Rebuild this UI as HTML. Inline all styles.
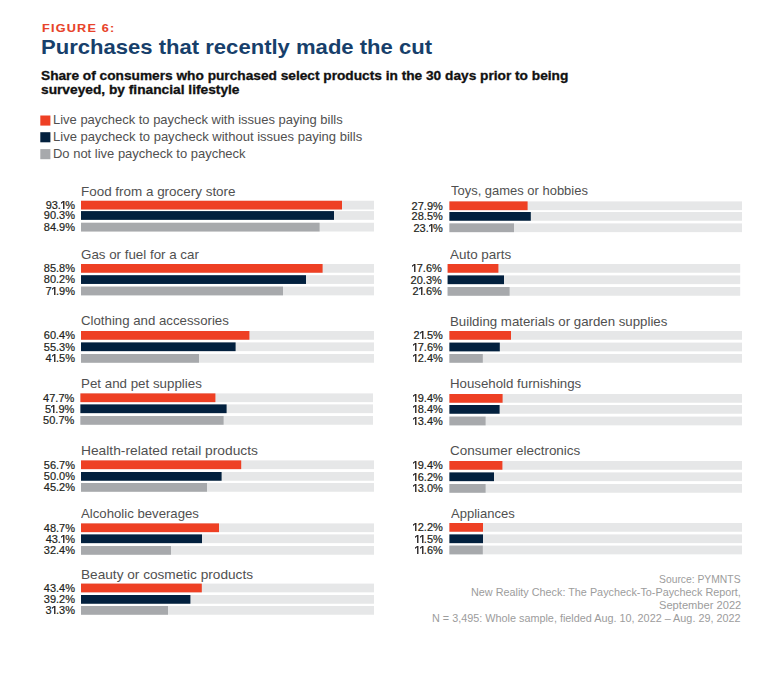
<!DOCTYPE html>
<html><head><meta charset="utf-8"><style>
html,body{margin:0;padding:0;background:#fff;}
body{width:780px;height:675px;position:relative;overflow:hidden;font-family:"Liberation Sans",sans-serif;}
.t{position:absolute;white-space:nowrap;line-height:1;}
.one{display:inline-block;vertical-align:baseline;position:static;fill:#231f20;overflow:visible;}
svg{position:absolute;left:0;top:0;}
</style></head><body>
<svg width="780" height="675" viewBox="0 0 780 675"><rect x="40.30" y="115.50" width="10.10" height="10.10" fill="#ee4024"/><rect x="40.30" y="132.20" width="10.10" height="10.10" fill="#02203e"/><rect x="40.30" y="149.10" width="10.10" height="10.10" fill="#a7a9ac"/><rect x="81.00" y="200.75" width="293.00" height="8.75" fill="#e6e7e8"/><rect x="81.00" y="200.75" width="261.00" height="8.75" fill="#ee4024"/><rect x="81.00" y="211.10" width="293.00" height="8.75" fill="#e6e7e8"/><rect x="81.00" y="211.10" width="253.00" height="8.75" fill="#02203e"/><rect x="81.00" y="222.75" width="293.00" height="8.75" fill="#e6e7e8"/><rect x="81.00" y="222.75" width="238.60" height="8.75" fill="#a7a9ac"/><rect x="81.00" y="264.00" width="293.00" height="8.75" fill="#e6e7e8"/><rect x="81.00" y="264.00" width="241.60" height="8.75" fill="#ee4024"/><rect x="81.00" y="275.20" width="293.00" height="8.75" fill="#e6e7e8"/><rect x="81.00" y="275.20" width="225.00" height="8.75" fill="#02203e"/><rect x="81.00" y="286.60" width="293.00" height="8.75" fill="#e6e7e8"/><rect x="81.00" y="286.60" width="202.00" height="8.75" fill="#a7a9ac"/><rect x="81.00" y="331.00" width="293.00" height="8.75" fill="#e6e7e8"/><rect x="81.00" y="331.00" width="168.40" height="8.75" fill="#ee4024"/><rect x="81.00" y="342.40" width="293.00" height="8.75" fill="#e6e7e8"/><rect x="81.00" y="342.40" width="154.60" height="8.75" fill="#02203e"/><rect x="81.00" y="354.00" width="293.00" height="8.75" fill="#e6e7e8"/><rect x="81.00" y="354.00" width="118.00" height="8.75" fill="#a7a9ac"/><rect x="80.40" y="393.40" width="292.60" height="8.75" fill="#e6e7e8"/><rect x="80.40" y="393.40" width="135.00" height="8.75" fill="#ee4024"/><rect x="80.40" y="404.40" width="292.60" height="8.75" fill="#e6e7e8"/><rect x="80.40" y="404.40" width="146.20" height="8.75" fill="#02203e"/><rect x="80.40" y="416.00" width="292.60" height="8.75" fill="#e6e7e8"/><rect x="80.40" y="416.00" width="143.20" height="8.75" fill="#a7a9ac"/><rect x="81.00" y="460.40" width="293.00" height="8.75" fill="#e6e7e8"/><rect x="81.00" y="460.40" width="160.20" height="8.75" fill="#ee4024"/><rect x="81.00" y="472.00" width="293.00" height="8.75" fill="#e6e7e8"/><rect x="81.00" y="472.00" width="140.60" height="8.75" fill="#02203e"/><rect x="81.00" y="483.00" width="293.00" height="8.75" fill="#e6e7e8"/><rect x="81.00" y="483.00" width="126.00" height="8.75" fill="#a7a9ac"/><rect x="81.00" y="523.40" width="293.00" height="8.75" fill="#e6e7e8"/><rect x="81.00" y="523.40" width="138.00" height="8.75" fill="#ee4024"/><rect x="81.00" y="534.40" width="293.00" height="8.75" fill="#e6e7e8"/><rect x="81.00" y="534.40" width="121.00" height="8.75" fill="#02203e"/><rect x="81.00" y="546.00" width="293.00" height="8.75" fill="#e6e7e8"/><rect x="81.00" y="546.00" width="90.00" height="8.75" fill="#a7a9ac"/><rect x="81.00" y="583.60" width="293.00" height="8.75" fill="#e6e7e8"/><rect x="81.00" y="583.60" width="120.80" height="8.75" fill="#ee4024"/><rect x="81.00" y="595.00" width="293.00" height="8.75" fill="#e6e7e8"/><rect x="81.00" y="595.00" width="109.40" height="8.75" fill="#02203e"/><rect x="81.00" y="606.00" width="293.00" height="8.75" fill="#e6e7e8"/><rect x="81.00" y="606.00" width="87.00" height="8.75" fill="#a7a9ac"/><rect x="449.40" y="201.40" width="292.60" height="8.75" fill="#e6e7e8"/><rect x="449.40" y="201.40" width="78.20" height="8.75" fill="#ee4024"/><rect x="449.40" y="212.00" width="292.60" height="8.75" fill="#e6e7e8"/><rect x="449.40" y="212.00" width="81.40" height="8.75" fill="#02203e"/><rect x="449.40" y="223.40" width="292.60" height="8.75" fill="#e6e7e8"/><rect x="449.40" y="223.40" width="64.60" height="8.75" fill="#a7a9ac"/><rect x="447.60" y="264.00" width="292.60" height="8.75" fill="#e6e7e8"/><rect x="447.60" y="264.00" width="50.80" height="8.75" fill="#ee4024"/><rect x="447.60" y="275.40" width="292.60" height="8.75" fill="#e6e7e8"/><rect x="447.60" y="275.40" width="56.40" height="8.75" fill="#02203e"/><rect x="447.60" y="287.00" width="292.60" height="8.75" fill="#e6e7e8"/><rect x="447.60" y="287.00" width="62.00" height="8.75" fill="#a7a9ac"/><rect x="449.40" y="331.00" width="292.60" height="8.75" fill="#e6e7e8"/><rect x="449.40" y="331.00" width="61.60" height="8.75" fill="#ee4024"/><rect x="449.40" y="342.60" width="292.60" height="8.75" fill="#e6e7e8"/><rect x="449.40" y="342.60" width="50.40" height="8.75" fill="#02203e"/><rect x="449.40" y="354.00" width="292.60" height="8.75" fill="#e6e7e8"/><rect x="449.40" y="354.00" width="33.40" height="8.75" fill="#a7a9ac"/><rect x="449.40" y="394.00" width="292.60" height="8.75" fill="#e6e7e8"/><rect x="449.40" y="394.00" width="53.20" height="8.75" fill="#ee4024"/><rect x="449.40" y="405.00" width="292.60" height="8.75" fill="#e6e7e8"/><rect x="449.40" y="405.00" width="50.20" height="8.75" fill="#02203e"/><rect x="449.40" y="416.60" width="292.60" height="8.75" fill="#e6e7e8"/><rect x="449.40" y="416.60" width="36.20" height="8.75" fill="#a7a9ac"/><rect x="449.40" y="461.00" width="292.60" height="8.75" fill="#e6e7e8"/><rect x="449.40" y="461.00" width="53.00" height="8.75" fill="#ee4024"/><rect x="449.40" y="472.40" width="292.60" height="8.75" fill="#e6e7e8"/><rect x="449.40" y="472.40" width="44.60" height="8.75" fill="#02203e"/><rect x="449.40" y="484.00" width="292.60" height="8.75" fill="#e6e7e8"/><rect x="449.40" y="484.00" width="36.20" height="8.75" fill="#a7a9ac"/><rect x="449.40" y="523.00" width="292.60" height="8.75" fill="#e6e7e8"/><rect x="449.40" y="523.00" width="33.60" height="8.75" fill="#ee4024"/><rect x="449.40" y="534.40" width="292.60" height="8.75" fill="#e6e7e8"/><rect x="449.40" y="534.40" width="33.60" height="8.75" fill="#02203e"/><rect x="449.40" y="545.60" width="292.60" height="8.75" fill="#e6e7e8"/><rect x="449.40" y="545.60" width="33.40" height="8.75" fill="#a7a9ac"/></svg>
<div class="t" style="left:41.94px;top:23.00px;font-size:11.5px;color:#e8432a;font-weight:700;letter-spacing:1.1px;transform:scaleX(1.1000);transform-origin:left 0;-webkit-text-stroke:0.1px #e8432a;">FIGURE 6:</div>
<div class="t" style="left:41.32px;top:37.00px;font-size:20.5px;color:#173f6b;font-weight:700;transform:scaleX(1.0760);transform-origin:left 0;">Purchases that recently made the cut</div>
<div class="t" style="left:40.80px;top:70.00px;font-size:12.3px;color:#111;font-weight:700;transform:scaleX(1.1135);transform-origin:left 0;-webkit-text-stroke:0.3px #111;">Share of consumers who purchased select products in the 30 days prior to being</div>
<div class="t" style="left:40.80px;top:84.00px;font-size:12.3px;color:#111;font-weight:700;transform:scaleX(1.1169);transform-origin:left 0;-webkit-text-stroke:0.3px #111;">surveyed, by financial lifestyle</div>
<div class="t" style="left:52.80px;top:113.00px;font-size:13px;color:#505050;font-weight:400;transform:scaleX(0.9972);transform-origin:left 0;">Live paycheck to paycheck with issues paying bills</div>
<div class="t" style="left:52.80px;top:130.00px;font-size:13px;color:#505050;font-weight:400;transform:scaleX(1.0019);transform-origin:left 0;">Live paycheck to paycheck without issues paying bills</div>
<div class="t" style="left:52.80px;top:147.00px;font-size:13px;color:#505050;font-weight:400;transform:scaleX(0.9979);transform-origin:left 0;">Do not live paycheck to paycheck</div>
<div class="t" style="left:81.00px;top:185.00px;font-size:13px;color:#505050;font-weight:400;transform:scaleX(1.0333);transform-origin:left 0;">Food from a grocery store</div>
<div class="t" style="right:705.00px;top:200.00px;font-size:11px;color:#231f20;font-weight:400;-webkit-text-stroke:0.2px #231f20;">93.<svg class="one" width="4.3" height="7.9" viewBox="0 0 4.3 7.9"><path d="M2.1 0H3.45V7.9H2.1V1.35L0 2.9V1.6Z"/></svg>%</div>
<div class="t" style="right:705.00px;top:210.00px;font-size:11px;color:#231f20;font-weight:400;-webkit-text-stroke:0.2px #231f20;">90.3%</div>
<div class="t" style="right:705.00px;top:222.00px;font-size:11px;color:#231f20;font-weight:400;-webkit-text-stroke:0.2px #231f20;">84.9%</div>
<div class="t" style="left:81.00px;top:248.00px;font-size:13px;color:#505050;font-weight:400;transform:scaleX(1.0261);transform-origin:left 0;">Gas or fuel for a car</div>
<div class="t" style="right:705.00px;top:263.00px;font-size:11px;color:#231f20;font-weight:400;-webkit-text-stroke:0.2px #231f20;">85.8%</div>
<div class="t" style="right:705.00px;top:274.00px;font-size:11px;color:#231f20;font-weight:400;-webkit-text-stroke:0.2px #231f20;">80.2%</div>
<div class="t" style="right:705.00px;top:286.00px;font-size:11px;color:#231f20;font-weight:400;-webkit-text-stroke:0.2px #231f20;">7<svg class="one" width="4.3" height="7.9" viewBox="0 0 4.3 7.9"><path d="M2.1 0H3.45V7.9H2.1V1.35L0 2.9V1.6Z"/></svg>.9%</div>
<div class="t" style="left:81.00px;top:314.00px;font-size:13px;color:#505050;font-weight:400;transform:scaleX(1.0179);transform-origin:left 0;">Clothing and accessories</div>
<div class="t" style="right:705.00px;top:330.00px;font-size:11px;color:#231f20;font-weight:400;-webkit-text-stroke:0.2px #231f20;">60.4%</div>
<div class="t" style="right:705.00px;top:342.00px;font-size:11px;color:#231f20;font-weight:400;-webkit-text-stroke:0.2px #231f20;">55.3%</div>
<div class="t" style="right:705.00px;top:353.00px;font-size:11px;color:#231f20;font-weight:400;-webkit-text-stroke:0.2px #231f20;">4<svg class="one" width="4.3" height="7.9" viewBox="0 0 4.3 7.9"><path d="M2.1 0H3.45V7.9H2.1V1.35L0 2.9V1.6Z"/></svg>.5%</div>
<div class="t" style="left:81.00px;top:377.00px;font-size:13px;color:#505050;font-weight:400;transform:scaleX(1.0254);transform-origin:left 0;">Pet and pet supplies</div>
<div class="t" style="right:705.70px;top:393.00px;font-size:11px;color:#231f20;font-weight:400;-webkit-text-stroke:0.2px #231f20;">47.7%</div>
<div class="t" style="right:705.70px;top:404.00px;font-size:11px;color:#231f20;font-weight:400;-webkit-text-stroke:0.2px #231f20;">5<svg class="one" width="4.3" height="7.9" viewBox="0 0 4.3 7.9"><path d="M2.1 0H3.45V7.9H2.1V1.35L0 2.9V1.6Z"/></svg>.9%</div>
<div class="t" style="right:705.70px;top:415.00px;font-size:11px;color:#231f20;font-weight:400;-webkit-text-stroke:0.2px #231f20;">50.7%</div>
<div class="t" style="left:81.00px;top:444.00px;font-size:13px;color:#505050;font-weight:400;transform:scaleX(1.0599);transform-origin:left 0;">Health-related retail products</div>
<div class="t" style="right:705.00px;top:460.00px;font-size:11px;color:#231f20;font-weight:400;-webkit-text-stroke:0.2px #231f20;">56.7%</div>
<div class="t" style="right:705.00px;top:471.00px;font-size:11px;color:#231f20;font-weight:400;-webkit-text-stroke:0.2px #231f20;">50.0%</div>
<div class="t" style="right:705.00px;top:482.00px;font-size:11px;color:#231f20;font-weight:400;-webkit-text-stroke:0.2px #231f20;">45.2%</div>
<div class="t" style="left:81.00px;top:507.00px;font-size:13px;color:#505050;font-weight:400;transform:scaleX(1.0138);transform-origin:left 0;">Alcoholic beverages</div>
<div class="t" style="right:705.00px;top:523.00px;font-size:11px;color:#231f20;font-weight:400;-webkit-text-stroke:0.2px #231f20;">48.7%</div>
<div class="t" style="right:705.00px;top:534.00px;font-size:11px;color:#231f20;font-weight:400;-webkit-text-stroke:0.2px #231f20;">43.<svg class="one" width="4.3" height="7.9" viewBox="0 0 4.3 7.9"><path d="M2.1 0H3.45V7.9H2.1V1.35L0 2.9V1.6Z"/></svg>%</div>
<div class="t" style="right:705.00px;top:545.00px;font-size:11px;color:#231f20;font-weight:400;-webkit-text-stroke:0.2px #231f20;">32.4%</div>
<div class="t" style="left:81.00px;top:568.00px;font-size:13px;color:#505050;font-weight:400;transform:scaleX(1.0488);transform-origin:left 0;">Beauty or cosmetic products</div>
<div class="t" style="right:705.00px;top:583.00px;font-size:11px;color:#231f20;font-weight:400;-webkit-text-stroke:0.2px #231f20;">43.4%</div>
<div class="t" style="right:705.00px;top:594.00px;font-size:11px;color:#231f20;font-weight:400;-webkit-text-stroke:0.2px #231f20;">39.2%</div>
<div class="t" style="right:705.00px;top:605.00px;font-size:11px;color:#231f20;font-weight:400;-webkit-text-stroke:0.2px #231f20;">3<svg class="one" width="4.3" height="7.9" viewBox="0 0 4.3 7.9"><path d="M2.1 0H3.45V7.9H2.1V1.35L0 2.9V1.6Z"/></svg>.3%</div>
<div class="t" style="left:450.80px;top:184.00px;font-size:13px;color:#505050;font-weight:400;transform:scaleX(0.9971);transform-origin:left 0;">Toys, games or hobbies</div>
<div class="t" style="right:337.20px;top:201.00px;font-size:11px;color:#231f20;font-weight:400;-webkit-text-stroke:0.2px #231f20;">27.9%</div>
<div class="t" style="right:337.20px;top:211.00px;font-size:11px;color:#231f20;font-weight:400;-webkit-text-stroke:0.2px #231f20;">28.5%</div>
<div class="t" style="right:337.20px;top:223.00px;font-size:11px;color:#231f20;font-weight:400;-webkit-text-stroke:0.2px #231f20;">23.<svg class="one" width="4.3" height="7.9" viewBox="0 0 4.3 7.9"><path d="M2.1 0H3.45V7.9H2.1V1.35L0 2.9V1.6Z"/></svg>%</div>
<div class="t" style="left:449.63px;top:248.00px;font-size:13px;color:#505050;font-weight:400;transform:scaleX(1.0333);transform-origin:left 0;">Auto parts</div>
<div class="t" style="right:338.20px;top:263.00px;font-size:11px;color:#231f20;font-weight:400;-webkit-text-stroke:0.2px #231f20;"><svg class="one" width="4.3" height="7.9" viewBox="0 0 4.3 7.9"><path d="M2.1 0H3.45V7.9H2.1V1.35L0 2.9V1.6Z"/></svg>7.6%</div>
<div class="t" style="right:338.20px;top:275.00px;font-size:11px;color:#231f20;font-weight:400;-webkit-text-stroke:0.2px #231f20;">20.3%</div>
<div class="t" style="right:338.20px;top:286.00px;font-size:11px;color:#231f20;font-weight:400;-webkit-text-stroke:0.2px #231f20;">2<svg class="one" width="4.3" height="7.9" viewBox="0 0 4.3 7.9"><path d="M2.1 0H3.45V7.9H2.1V1.35L0 2.9V1.6Z"/></svg>.6%</div>
<div class="t" style="left:449.79px;top:315.00px;font-size:13px;color:#505050;font-weight:400;transform:scaleX(1.0197);transform-origin:left 0;">Building materials or garden supplies</div>
<div class="t" style="right:337.20px;top:330.00px;font-size:11px;color:#231f20;font-weight:400;-webkit-text-stroke:0.2px #231f20;">2<svg class="one" width="4.3" height="7.9" viewBox="0 0 4.3 7.9"><path d="M2.1 0H3.45V7.9H2.1V1.35L0 2.9V1.6Z"/></svg>.5%</div>
<div class="t" style="right:337.20px;top:342.00px;font-size:11px;color:#231f20;font-weight:400;-webkit-text-stroke:0.2px #231f20;"><svg class="one" width="4.3" height="7.9" viewBox="0 0 4.3 7.9"><path d="M2.1 0H3.45V7.9H2.1V1.35L0 2.9V1.6Z"/></svg>7.6%</div>
<div class="t" style="right:337.20px;top:353.00px;font-size:11px;color:#231f20;font-weight:400;-webkit-text-stroke:0.2px #231f20;"><svg class="one" width="4.3" height="7.9" viewBox="0 0 4.3 7.9"><path d="M2.1 0H3.45V7.9H2.1V1.35L0 2.9V1.6Z"/></svg>2.4%</div>
<div class="t" style="left:449.79px;top:377.00px;font-size:13px;color:#505050;font-weight:400;transform:scaleX(1.0203);transform-origin:left 0;">Household furnishings</div>
<div class="t" style="right:337.20px;top:393.00px;font-size:11px;color:#231f20;font-weight:400;-webkit-text-stroke:0.2px #231f20;"><svg class="one" width="4.3" height="7.9" viewBox="0 0 4.3 7.9"><path d="M2.1 0H3.45V7.9H2.1V1.35L0 2.9V1.6Z"/></svg>9.4%</div>
<div class="t" style="right:337.20px;top:404.00px;font-size:11px;color:#231f20;font-weight:400;-webkit-text-stroke:0.2px #231f20;"><svg class="one" width="4.3" height="7.9" viewBox="0 0 4.3 7.9"><path d="M2.1 0H3.45V7.9H2.1V1.35L0 2.9V1.6Z"/></svg>8.4%</div>
<div class="t" style="right:337.20px;top:416.00px;font-size:11px;color:#231f20;font-weight:400;-webkit-text-stroke:0.2px #231f20;"><svg class="one" width="4.3" height="7.9" viewBox="0 0 4.3 7.9"><path d="M2.1 0H3.45V7.9H2.1V1.35L0 2.9V1.6Z"/></svg>3.4%</div>
<div class="t" style="left:449.78px;top:444.00px;font-size:13px;color:#505050;font-weight:400;transform:scaleX(1.0368);transform-origin:left 0;">Consumer electronics</div>
<div class="t" style="right:337.20px;top:460.00px;font-size:11px;color:#231f20;font-weight:400;-webkit-text-stroke:0.2px #231f20;"><svg class="one" width="4.3" height="7.9" viewBox="0 0 4.3 7.9"><path d="M2.1 0H3.45V7.9H2.1V1.35L0 2.9V1.6Z"/></svg>9.4%</div>
<div class="t" style="right:337.20px;top:472.00px;font-size:11px;color:#231f20;font-weight:400;-webkit-text-stroke:0.2px #231f20;"><svg class="one" width="4.3" height="7.9" viewBox="0 0 4.3 7.9"><path d="M2.1 0H3.45V7.9H2.1V1.35L0 2.9V1.6Z"/></svg>6.2%</div>
<div class="t" style="right:337.20px;top:483.00px;font-size:11px;color:#231f20;font-weight:400;-webkit-text-stroke:0.2px #231f20;"><svg class="one" width="4.3" height="7.9" viewBox="0 0 4.3 7.9"><path d="M2.1 0H3.45V7.9H2.1V1.35L0 2.9V1.6Z"/></svg>3.0%</div>
<div class="t" style="left:450.80px;top:507.00px;font-size:13px;color:#505050;font-weight:400;transform:scaleX(1.0016);transform-origin:left 0;">Appliances</div>
<div class="t" style="right:337.20px;top:522.00px;font-size:11px;color:#231f20;font-weight:400;-webkit-text-stroke:0.2px #231f20;"><svg class="one" width="4.3" height="7.9" viewBox="0 0 4.3 7.9"><path d="M2.1 0H3.45V7.9H2.1V1.35L0 2.9V1.6Z"/></svg>2.2%</div>
<div class="t" style="right:337.20px;top:534.00px;font-size:11px;color:#231f20;font-weight:400;-webkit-text-stroke:0.2px #231f20;"><svg class="one" width="4.3" height="7.9" viewBox="0 0 4.3 7.9"><path d="M2.1 0H3.45V7.9H2.1V1.35L0 2.9V1.6Z"/></svg><svg class="one" width="4.3" height="7.9" viewBox="0 0 4.3 7.9"><path d="M2.1 0H3.45V7.9H2.1V1.35L0 2.9V1.6Z"/></svg>.5%</div>
<div class="t" style="right:337.20px;top:545.00px;font-size:11px;color:#231f20;font-weight:400;-webkit-text-stroke:0.2px #231f20;"><svg class="one" width="4.3" height="7.9" viewBox="0 0 4.3 7.9"><path d="M2.1 0H3.45V7.9H2.1V1.35L0 2.9V1.6Z"/></svg><svg class="one" width="4.3" height="7.9" viewBox="0 0 4.3 7.9"><path d="M2.1 0H3.45V7.9H2.1V1.35L0 2.9V1.6Z"/></svg>.6%</div>
<div class="t" style="left:659.40px;top:574.00px;font-size:10.5px;color:#9c9c9c;font-weight:400;transform:scaleX(0.9841);transform-origin:left 0;">Source: PYMNTS</div>
<div class="t" style="left:470.78px;top:587.00px;font-size:10.5px;color:#9c9c9c;font-weight:400;transform:scaleX(1.0307);transform-origin:left 0;">New Reality Check: The Paycheck-To-Paycheck Report,</div>
<div class="t" style="left:658.59px;top:600.00px;font-size:10.5px;color:#9c9c9c;font-weight:400;transform:scaleX(1.0597);transform-origin:left 0;">September 2022</div>
<div class="t" style="left:432.00px;top:613.00px;font-size:10.5px;color:#9c9c9c;font-weight:400;transform:scaleX(1.0314);transform-origin:left 0;">N = 3,495: Whole sample, fielded Aug. 10, 2022 – Aug. 29, 2022</div>
</body></html>
